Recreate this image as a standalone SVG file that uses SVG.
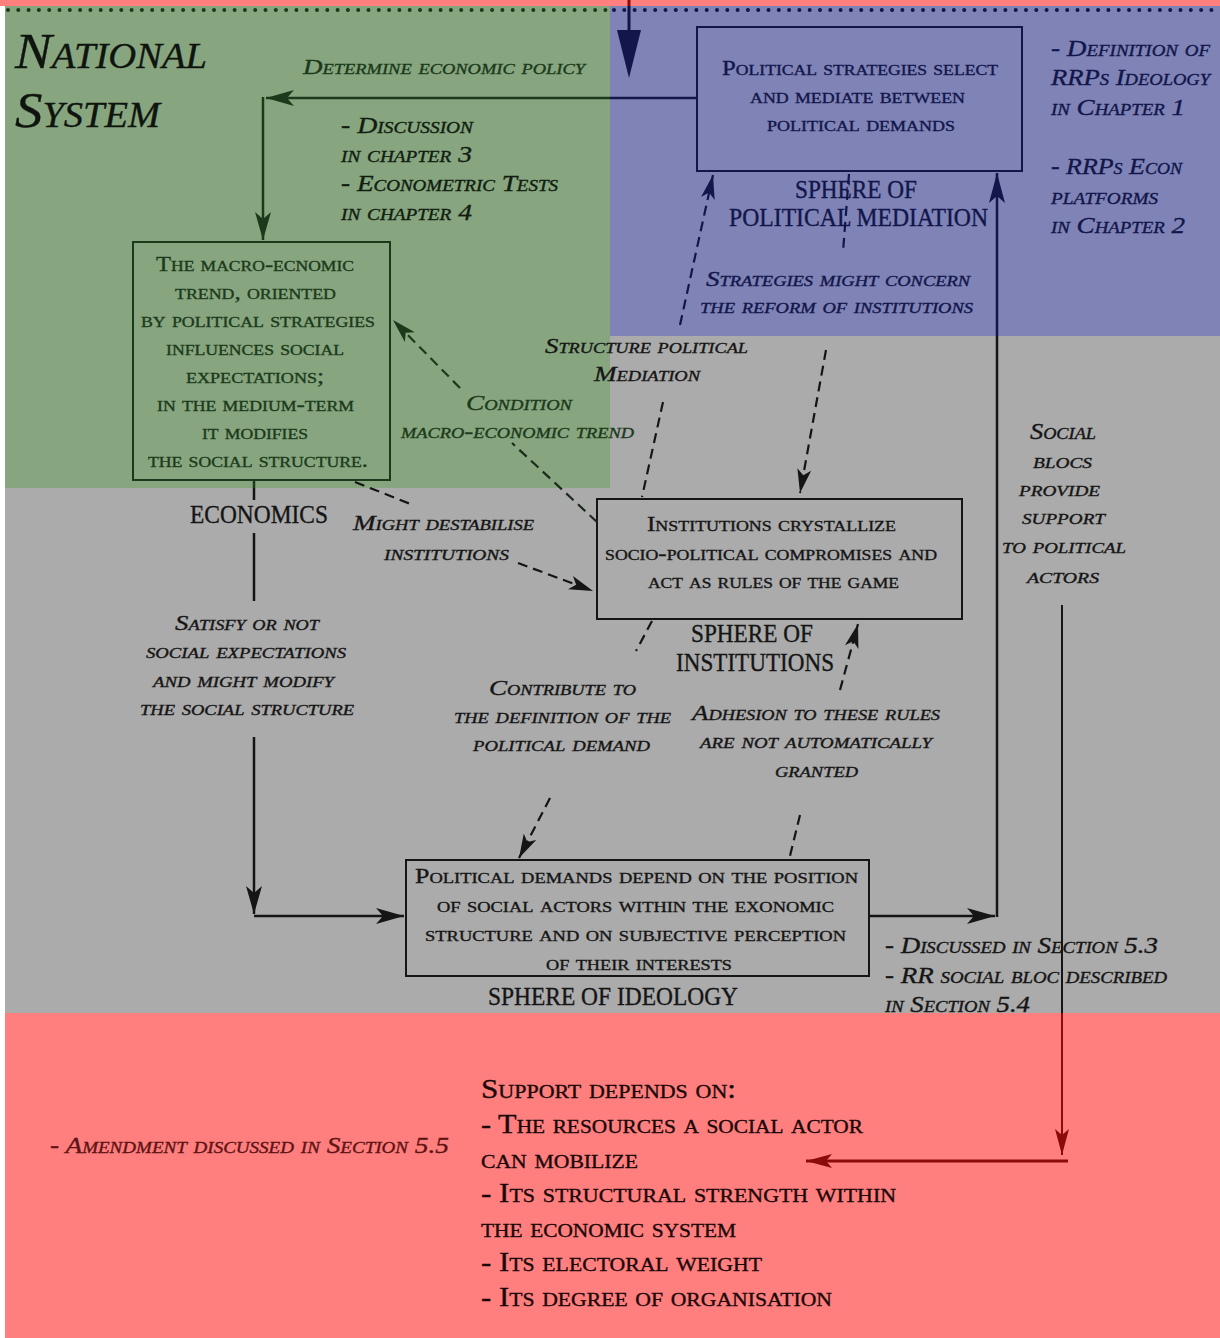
<svg xmlns="http://www.w3.org/2000/svg" width="1220" height="1338" viewBox="0 0 1220 1338">
<style>
text { font-family: "Liberation Serif", "DejaVu Serif", serif; stroke-width: 0.35; }
.sc { font-variant: small-caps; font-size: 21px; }
.it { font-style: italic; font-variant: small-caps; font-size: 22px; }
.cap { font-size: 25px; }
.g { fill: #1b3a1b; stroke: #1b3a1b; }
.n { fill: #12164a; stroke: #12164a; }
.k { fill: #151515; stroke: #151515; }
.rk { fill: #1a0808; stroke: #1a0808; font-size: 27px; }
.box { fill: none; stroke-width: 2; }
.sol { fill: none; stroke-width: 2.5; }
.dash { fill: none; stroke-width: 2.2; stroke-dasharray: 10 6; }
</style>
<defs>
<marker id="ak" viewBox="-30 -10 32 20" refX="0" refY="0" markerWidth="32" markerHeight="20" markerUnits="userSpaceOnUse" orient="auto"><path d="M0,0 L-28,-8 L-21,0 L-28,8 Z" fill="#151515"/></marker>
<marker id="ag" viewBox="-30 -10 32 20" refX="0" refY="0" markerWidth="32" markerHeight="20" markerUnits="userSpaceOnUse" orient="auto"><path d="M0,0 L-28,-8 L-21,0 L-28,8 Z" fill="#1b3a1b"/></marker>
<marker id="an" viewBox="-32 -10 34 20" refX="0" refY="0" markerWidth="34" markerHeight="20" markerUnits="userSpaceOnUse" orient="auto"><path d="M0,0 L-30,-8 L-23,0 L-30,8 Z" fill="#12164a"/></marker>
<marker id="ar" viewBox="-30 -10 32 20" refX="0" refY="0" markerWidth="32" markerHeight="20" markerUnits="userSpaceOnUse" orient="auto"><path d="M0,0 L-26,-7 L-20,0 L-26,7 Z" fill="#8b0a0a"/></marker>
<marker id="dk" viewBox="-26 -9 28 18" refX="0" refY="0" markerWidth="28" markerHeight="18" markerUnits="userSpaceOnUse" orient="auto"><path d="M0,0 L-24,-7 L-18,0 L-24,7 Z" fill="#151515"/></marker>
<marker id="dg" viewBox="-26 -9 28 18" refX="0" refY="0" markerWidth="28" markerHeight="18" markerUnits="userSpaceOnUse" orient="auto"><path d="M0,0 L-24,-7 L-18,0 L-24,7 Z" fill="#1b3a1b"/></marker>
<marker id="dn" viewBox="-26 -9 28 18" refX="0" refY="0" markerWidth="28" markerHeight="18" markerUnits="userSpaceOnUse" orient="auto"><path d="M0,0 L-24,-7 L-18,0 L-24,7 Z" fill="#12164a"/></marker>
</defs>

<g id="background">
<rect x="0" y="0" width="1220" height="1338" fill="#ffffff"/>
<rect x="0" y="0" width="1220" height="6" fill="#ff7f7f"/>
<rect x="5" y="6" width="605" height="482" fill="#87a67f"/>
<rect x="610" y="6" width="610" height="330" fill="#7f83b6"/>
<rect x="5" y="488" width="605" height="525" fill="#ababab"/>
<rect x="610" y="336" width="610" height="677" fill="#ababab"/>
<rect x="5" y="1013" width="1215" height="325" fill="#ff7f7f"/>
<line x1="8" y1="10" x2="608" y2="10" stroke="#1b3a1b" stroke-width="4" stroke-linecap="round" stroke-dasharray="0 10.3"/>
<line x1="614" y1="10" x2="1218" y2="10" stroke="#12164a" stroke-width="4" stroke-linecap="round" stroke-dasharray="0 10.3"/>
</g>

<g id="title">
<text class="it" x="15" y="68" style="font-size:50px" fill="#0f140f" stroke="#0f140f" textLength="192" lengthAdjust="spacingAndGlyphs">National</text>
<text class="it" x="15" y="127" style="font-size:50px" fill="#0f140f" stroke="#0f140f" textLength="145" lengthAdjust="spacingAndGlyphs">System</text>
</g>

<g id="node-strategies">
<rect class="box" x="697" y="27" width="325" height="144" stroke="#12164a"/>
<text class="sc n" x="722" y="75" textLength="276" lengthAdjust="spacingAndGlyphs">Political strategies select</text>
<text class="sc n" x="750" y="103" textLength="215" lengthAdjust="spacingAndGlyphs">and mediate between</text>
<text class="sc n" x="767" y="131" textLength="188" lengthAdjust="spacingAndGlyphs">political demands</text>
<text class="cap n" x="795" y="198" textLength="122" lengthAdjust="spacingAndGlyphs">SPHERE OF</text>
<text class="cap n" x="729" y="226" textLength="259" lengthAdjust="spacingAndGlyphs">POLITICAL MEDIATION</text>
</g>

<g id="node-macro">
<rect class="box" x="133" y="242" width="257" height="238" stroke="#1b3a1b"/>
<text class="sc g" x="156" y="271" textLength="198" lengthAdjust="spacingAndGlyphs">The macro-ecnomic</text>
<text class="sc g" x="175" y="299" textLength="161" lengthAdjust="spacingAndGlyphs">trend, oriented</text>
<text class="sc g" x="141" y="327" textLength="234" lengthAdjust="spacingAndGlyphs">by political strategies</text>
<text class="sc g" x="166" y="355" textLength="178" lengthAdjust="spacingAndGlyphs">influences social</text>
<text class="sc g" x="186" y="383" textLength="138" lengthAdjust="spacingAndGlyphs">expectations;</text>
<text class="sc g" x="157" y="411" textLength="197" lengthAdjust="spacingAndGlyphs">in the medium-term</text>
<text class="sc g" x="202" y="439" textLength="106" lengthAdjust="spacingAndGlyphs">it modifies</text>
<text class="sc g" x="148" y="467" textLength="220" lengthAdjust="spacingAndGlyphs">the social structure.</text>
<text class="cap k" x="190" y="523" style="font-size:26px" textLength="138" lengthAdjust="spacingAndGlyphs">ECONOMICS</text>
</g>

<g id="node-institutions">
<rect class="box" x="597" y="499" width="365" height="120" stroke="#151515"/>
<text class="sc k" x="647" y="531" textLength="249" lengthAdjust="spacingAndGlyphs">Institutions crystallize</text>
<text class="sc k" x="605" y="560" textLength="332" lengthAdjust="spacingAndGlyphs">socio-political compromises and</text>
<text class="sc k" x="648" y="588" textLength="251" lengthAdjust="spacingAndGlyphs">act as rules of the game</text>
<text class="cap k" x="691" y="642" textLength="122" lengthAdjust="spacingAndGlyphs">SPHERE OF</text>
<text class="cap k" x="676" y="671" textLength="158" lengthAdjust="spacingAndGlyphs">INSTITUTIONS</text>
</g>

<g id="node-ideology">
<rect class="box" x="406" y="860" width="463" height="116" stroke="#151515"/>
<text class="sc k" x="415" y="883" textLength="443" lengthAdjust="spacingAndGlyphs">Political demands depend on the position</text>
<text class="sc k" x="437" y="912" textLength="397" lengthAdjust="spacingAndGlyphs">of social actors within the exonomic</text>
<text class="sc k" x="425" y="941" textLength="421" lengthAdjust="spacingAndGlyphs">structure and on subjective perception</text>
<text class="sc k" x="546" y="970" textLength="186" lengthAdjust="spacingAndGlyphs">of their interests</text>
<text class="cap k" x="488" y="1005" textLength="250" lengthAdjust="spacingAndGlyphs">SPHERE OF IDEOLOGY</text>
</g>

<g id="node-support">
<text class="sc rk" x="481" y="1098" textLength="255" lengthAdjust="spacingAndGlyphs">Support depends on:</text>
<text class="sc rk" x="481" y="1133" textLength="382" lengthAdjust="spacingAndGlyphs">- The resources a social actor</text>
<text class="sc rk" x="481" y="1168" textLength="157" lengthAdjust="spacingAndGlyphs">can mobilize</text>
<text class="sc rk" x="481" y="1202" textLength="415" lengthAdjust="spacingAndGlyphs">- Its structural strength within</text>
<text class="sc rk" x="481" y="1237" textLength="255" lengthAdjust="spacingAndGlyphs">the economic system</text>
<text class="sc rk" x="481" y="1271" textLength="281" lengthAdjust="spacingAndGlyphs">- Its electoral weight</text>
<text class="sc rk" x="481" y="1306" textLength="351" lengthAdjust="spacingAndGlyphs">- Its degree of organisation</text>
</g>

<g id="labels">
<text class="it g" x="303" y="74" textLength="282" lengthAdjust="spacingAndGlyphs">Determine economic policy</text>
<text class="it" x="341" y="133" style="font-size:23px" fill="#111d11" stroke="#111d11" textLength="132" lengthAdjust="spacingAndGlyphs">- Discussion</text>
<text class="it" x="341" y="162" style="font-size:23px" fill="#111d11" stroke="#111d11" textLength="131" lengthAdjust="spacingAndGlyphs">in chapter 3</text>
<text class="it" x="341" y="191" style="font-size:23px" fill="#111d11" stroke="#111d11" textLength="217" lengthAdjust="spacingAndGlyphs">- Econometric Tests</text>
<text class="it" x="341" y="220" style="font-size:23px" fill="#111d11" stroke="#111d11" textLength="131" lengthAdjust="spacingAndGlyphs">in chapter 4</text>

<text class="it n" x="1051" y="56" style="font-size:23px" textLength="159" lengthAdjust="spacingAndGlyphs">- Definition of</text>
<text class="it n" x="1051" y="85" style="font-size:23px" textLength="159" lengthAdjust="spacingAndGlyphs">RRPs Ideology</text>
<text class="it n" x="1051" y="115" style="font-size:23px" textLength="134" lengthAdjust="spacingAndGlyphs">in Chapter 1</text>
<text class="it n" x="1051" y="174" style="font-size:23px" textLength="131" lengthAdjust="spacingAndGlyphs">- RRPs Econ</text>
<text class="it n" x="1051" y="204" style="font-size:23px" textLength="107" lengthAdjust="spacingAndGlyphs">platforms</text>
<text class="it n" x="1051" y="233" style="font-size:23px" textLength="134" lengthAdjust="spacingAndGlyphs">in Chapter 2</text>

<text class="it n" x="706" y="286" textLength="264" lengthAdjust="spacingAndGlyphs">Strategies might concern</text>
<text class="it n" x="700" y="313" textLength="273" lengthAdjust="spacingAndGlyphs">the reform of institutions</text>

<text class="it k" x="545" y="353" textLength="203" lengthAdjust="spacingAndGlyphs">Structure political</text>
<text class="it k" x="594" y="381" textLength="106" lengthAdjust="spacingAndGlyphs">Mediation</text>

<text class="it g" x="466" y="410" textLength="106" lengthAdjust="spacingAndGlyphs">Condition</text>
<text class="it g" x="401" y="438" textLength="233" lengthAdjust="spacingAndGlyphs">macro-economic trend</text>

<text class="it k" x="353" y="530" textLength="181" lengthAdjust="spacingAndGlyphs">Might destabilise</text>
<text class="it k" x="384" y="560" textLength="125" lengthAdjust="spacingAndGlyphs">institutions</text>

<text class="it k" x="175" y="630" textLength="144" lengthAdjust="spacingAndGlyphs">Satisfy or not</text>
<text class="it k" x="146" y="658" textLength="200" lengthAdjust="spacingAndGlyphs">social expectations</text>
<text class="it k" x="153" y="687" textLength="181" lengthAdjust="spacingAndGlyphs">and might modify</text>
<text class="it k" x="140" y="715" textLength="214" lengthAdjust="spacingAndGlyphs">the social structure</text>

<text class="it k" x="489" y="695" textLength="147" lengthAdjust="spacingAndGlyphs">Contribute to</text>
<text class="it k" x="454" y="723" textLength="217" lengthAdjust="spacingAndGlyphs">the definition of the</text>
<text class="it k" x="473" y="751" textLength="177" lengthAdjust="spacingAndGlyphs">political demand</text>

<text class="it k" x="692" y="720" textLength="248" lengthAdjust="spacingAndGlyphs">Adhesion to these rules</text>
<text class="it k" x="700" y="748" textLength="232" lengthAdjust="spacingAndGlyphs">are not automatically</text>
<text class="it k" x="775" y="777" textLength="83" lengthAdjust="spacingAndGlyphs">granted</text>

<text class="it k" x="1030" y="439" style="font-size:23px" textLength="66" lengthAdjust="spacingAndGlyphs">Social</text>
<text class="it k" x="1033" y="468" textLength="59" lengthAdjust="spacingAndGlyphs">blocs</text>
<text class="it k" x="1019" y="496" textLength="81" lengthAdjust="spacingAndGlyphs">provide</text>
<text class="it k" x="1022" y="524" textLength="83" lengthAdjust="spacingAndGlyphs">support</text>
<text class="it k" x="1002" y="553" textLength="124" lengthAdjust="spacingAndGlyphs">to political</text>
<text class="it k" x="1027" y="583" textLength="72" lengthAdjust="spacingAndGlyphs">actors</text>

<text class="it k" x="885" y="953" style="font-size:23px" textLength="273" lengthAdjust="spacingAndGlyphs">- Discussed in Section 5.3</text>
<text class="it k" x="885" y="983" style="font-size:23px" textLength="282" lengthAdjust="spacingAndGlyphs">- RR social bloc described</text>
<text class="it k" x="885" y="1012" style="font-size:23px" textLength="145" lengthAdjust="spacingAndGlyphs">in Section 5.4</text>

<text class="it" x="50" y="1153" style="font-size:23px" fill="#5e1414" stroke="#5e1414" textLength="399" lengthAdjust="spacingAndGlyphs">- Amendment discussed in Section 5.5</text>
</g>

<g id="connectors">
<line x1="629" y1="0" x2="629" y2="6" stroke="#8b0a0a" stroke-width="3"/>
<line x1="629" y1="6" x2="629" y2="40" stroke="#12164a" stroke-width="3"/>
<path d="M617,30 L641,30 L629,78 Z" fill="#12164a"/>
<path class="sol" d="M697,98 H610" stroke="#12164a"/>
<path class="sol" d="M610,98 H266" stroke="#1b3a1b" marker-end="url(#ag)"/>
<path class="sol" d="M263,97 V240" stroke="#1b3a1b" marker-end="url(#ag)"/>
<path class="sol" d="M254,480 V488" stroke="#1b3a1b"/>
<path class="sol" d="M254,488 V500" stroke="#151515"/>
<path class="sol" d="M254,533 V601" stroke="#151515"/>
<path class="sol" d="M254,737 V914" stroke="#151515" marker-end="url(#ak)"/>
<path class="sol" d="M254,916 H404" stroke="#151515" marker-end="url(#ak)"/>
<path class="sol" d="M869,916 H995" stroke="#151515" marker-end="url(#ak)"/>
<path class="sol" d="M997,917 V336" stroke="#151515"/>
<path class="sol" d="M997,336 V173" stroke="#12164a" marker-end="url(#an)"/>
<path class="dash" d="M680,325 L713,175" stroke="#12164a" marker-end="url(#dn)"/>
<path class="dash" d="M849,174 L843,252" stroke="#12164a"/>
<path class="dash" d="M826,350 L800,493" stroke="#151515" marker-end="url(#dk)"/>
<path class="dash" d="M663,402 L642,497" stroke="#151515"/>
<path class="dash" d="M597,522 L512,443" stroke="#1b2a1b"/>
<path class="dash" d="M460,388 L393,320" stroke="#1b3a1b" marker-end="url(#dg)"/>
<path class="dash" d="M355,482 L413,505" stroke="#151515"/>
<path class="dash" d="M518,563 L593,591" stroke="#151515" marker-end="url(#dk)"/>
<path class="dash" d="M652,621 L636,651" stroke="#151515"/>
<path class="dash" d="M550,798 L519,858" stroke="#151515" marker-end="url(#dk)"/>
<path class="dash" d="M800,815 L789,860" stroke="#151515"/>
<path class="dash" d="M840,690 L858,624" stroke="#151515" marker-end="url(#dk)"/>
<path d="M1062,605 V1013" fill="none" stroke="#151515" stroke-width="2"/>
<path d="M1062,1013 V1155" fill="none" stroke="#8b0a0a" stroke-width="2" marker-end="url(#ar)"/>
<path d="M1068,1161 H806" fill="none" stroke="#8b0a0a" stroke-width="3" marker-end="url(#ar)"/>
</g>
</svg>
